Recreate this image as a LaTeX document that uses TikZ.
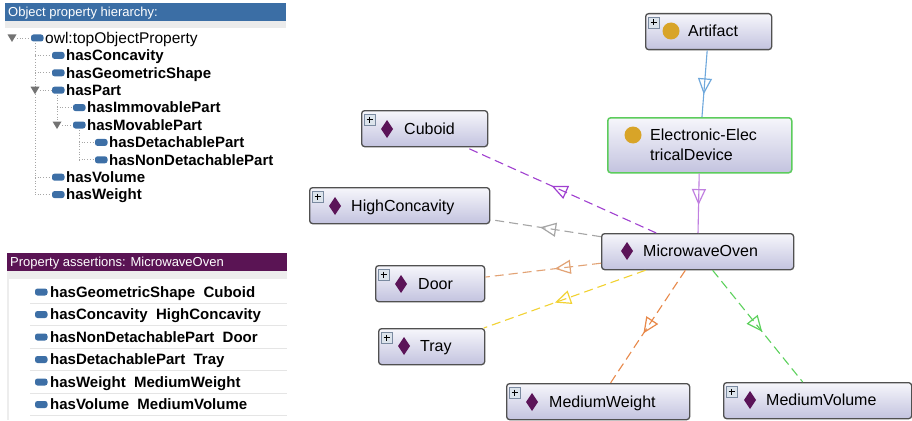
\documentclass[tikz,border=0pt]{standalone}
\usepackage{fontspec}
\setmainfont{Liberation Sans}
\usetikzlibrary{arrows.meta,decorations.markings}
\definecolor{hdrblue}{HTML}{3B6EA5}
\definecolor{hdrpurple}{HTML}{5A1454}
\definecolor{picon}{HTML}{3D6FA6}
\definecolor{boxtop}{HTML}{F6F6FB}
\definecolor{boxbot}{HTML}{C3C3DF}
\definecolor{boxline}{HTML}{505050}
\definecolor{greenline}{HTML}{5CCC5C}
\definecolor{goldc}{HTML}{D8A428}
\definecolor{diac}{HTML}{5B1458}
\definecolor{plusfill}{HTML}{DCE4EC}
\definecolor{plusline}{HTML}{7A8AA0}
\definecolor{eblue}{HTML}{6FA8DC}
\definecolor{eviolet}{HTML}{C07FE0}
\definecolor{epurple}{HTML}{A040D0}
\definecolor{egray}{HTML}{A5A5A5}
\definecolor{etan}{HTML}{E2A274}
\definecolor{eyellow}{HTML}{F2D233}
\definecolor{eorange}{HTML}{E8894A}
\definecolor{egreen}{HTML}{5CD15C}
\newcommand\regfont{\fontsize{15.5pt}{18pt}\selectfont}
\newcommand\boldfont{\fontsize{15pt}{17pt}\selectfont\bfseries}
\newcommand\hdrfont{\fontsize{13pt}{15pt}\selectfont}
\newcommand\grfont{\fontsize{16pt}{19pt}\selectfont}
\newcommand\plusicon[2]{%
  \draw[fill=plusfill,draw=plusline,line width=0.8pt] (#1,#2) rectangle ++(11,11);
  \draw[line width=1.1pt] (#1,#2) ++(5.5,2.5) -- ++(0,6) (#1,#2) ++(2.5,5.5) -- ++(6,0);}
\newcommand\diaicon[2]{\fill[diac] (#1,#2) ++(0,-9) -- ++(6,9) -- ++(-6,9) -- ++(-6,-9) -- cycle;}
\newcommand\circicon[2]{\fill[goldc] (#1,#2) circle (8.5pt);}
\newcommand\propicon[2]{\fill[picon,rounded corners=2.5pt] (#1,#2) ++(0,-3.5) rectangle ++(12.5,7);}
\newcommand\expandtri[2]{\fill[black!55] (#1,#2) ++(-4.5,-3.5) -- ++(9,0) -- ++(-4.5,7.5) -- cycle;}
\tikzset{
  gbox/.style={draw=boxline,line width=1.3pt,rounded corners=3pt,top color=boxtop,bottom color=boxbot,anchor=north west,inner sep=0pt},
  gtext/.style={anchor=west,inner sep=0pt,font=\grfont,text height=11.5pt,text depth=0pt},
  ttext/.style={anchor=west,inner sep=0pt,font=\boldfont,text height=10.7pt,text depth=0pt},
  rtext/.style={anchor=west,inner sep=0pt,font=\regfont,text height=11pt,text depth=0pt},
  htext/.style={anchor=west,inner sep=0pt,font=\hdrfont,text=white,text height=9.3pt,text depth=0pt},
  tline/.style={black!35,dotted,line width=0.7pt},
  conn/.style={line width=1.1pt,postaction={decorate},decoration={markings,mark=at position #1 with {\arrow[line width=1.2pt]{Triangle[open,length=16pt,width=14pt]}}}},
  conn/.default=0.56,
  dconn/.style={conn=#1,dash pattern=on 9pt off 5pt},
  dconn/.default=0.56,
}
\begin{document}
\begin{tikzpicture}[x=1pt,y=-1pt]
\useasboundingbox (0,0) rectangle (912,420);
\fill[white] (0,0) rectangle (912,420);
% ---------- Object property hierarchy panel ----------
\fill[hdrblue] (5,3) rectangle (286,21);
\fill[black!8] (5,21) rectangle (286,28);
\node[htext] (h1) at (8,12.2) {Object property hierarchy:};
% tree lines
\draw[tline] (17,38) -- (30,38);
\draw[tline] (35,43) -- (35,194.6);
\foreach \y in {55.4,72.8,177.2,194.6} \draw[tline] (35,\y) -- (51,\y);
\draw[tline] (40,90.2) -- (51,90.2);
\draw[tline] (57,95) -- (57,125);
\draw[tline] (57,107.6) -- (72,107.6);
\draw[tline] (62,125) -- (72,125);
\draw[tline] (79,130) -- (79,159.8);
\foreach \y in {142.4,159.8} \draw[tline] (79,\y) -- (94,\y);
\expandtri{12}{38}
\expandtri{35}{90.2}
\expandtri{57}{125}
% icons and texts
\propicon{31}{38}
\node[rtext] (t0) at (45,38) {owl:topObjectProperty};
\foreach \y/\lx/\txt [count=\i] in {55.4/52/hasConcavity,72.8/52/hasGeometricShape,90.2/52/hasPart,107.6/73/hasImmovablePart,125/73/hasMovablePart,142.4/95/hasDetachablePart,159.8/95/hasNonDetachablePart,177.2/52/hasVolume,194.6/52/hasWeight}{
  \propicon{\lx}{\y}
  \node[ttext] (t\i) at (\lx+14,\y) {\txt};
}
% ---------- Property assertions panel ----------
\fill[hdrpurple] (7,253) rectangle (287,271);
\node[htext] (h2) at (10,262) {Property assertions: MicrowaveOven};
\fill[black!7] (7,271) rectangle (287,279);
\fill[black!7] (7,279) rectangle (9,420);
\foreach \y/\txt [count=\i] in {292/{hasGeometricShape\ \ Cuboid},314.5/{hasConcavity\ \ HighConcavity},337/{hasNonDetachablePart\ \ Door},359.5/{hasDetachablePart\ \ Tray},382/{hasWeight\ \ MediumWeight},404.5/{hasVolume\ \ MediumVolume}}{
  \draw[black!10,line width=0.8pt] (30,\y+11.25) -- (287,\y+11.25);
  \propicon{35}{\y}
  \node[ttext] (a\i) at (50,\y) {\txt};
}
% ---------- graph boxes ----------
\node[gbox,minimum width=126pt,minimum height=36pt] (art) at (645,13) {};
\node[gbox,draw=greenline,line width=1.5pt,minimum width=184pt,minimum height=55pt] (ele) at (607,117) {};
\node[gbox,minimum width=192pt,minimum height=36pt] (mw) at (601,233) {};
\node[gbox,minimum width=126pt,minimum height=36pt] (cub) at (361,110) {};
\node[gbox,minimum width=180pt,minimum height=36pt] (hc) at (309,187) {};
\node[gbox,minimum width=109pt,minimum height=36pt] (door) at (375,265) {};
\node[gbox,minimum width=106pt,minimum height=36pt] (tray) at (378,328) {};
\node[gbox,minimum width=183pt,minimum height=36pt] (mwt) at (506,383) {};
\node[gbox,minimum width=188pt,minimum height=36pt] (mvol) at (723,382) {};
% icons
\plusicon{648}{17}\circicon{671}{31}
\circicon{633}{135}
\diaicon{627}{251}
\plusicon{364}{114}\diaicon{387}{129}
\plusicon{312}{191}\diaicon{335}{206}
\plusicon{378}{269}\diaicon{401}{284}
\plusicon{381}{332}\diaicon{404}{346}
\plusicon{509}{387}\diaicon{532}{402}
\plusicon{726}{386}\diaicon{750}{400}
% texts
\node[gtext] (art-t) at (688,31) {Artifact};
\node[gtext] (ele-t1) at (650,135) {Electronic-Elec};
\node[gtext] (ele-t2) at (650,155) {tricalDevice};
\node[gtext] (mw-t) at (643,251) {MicrowaveOven};
\node[gtext] (cub-t) at (404,129) {Cuboid};
\node[gtext] (hc-t) at (351,206) {HighConcavity};
\node[gtext] (door-t) at (418,284) {Door};
\node[gtext] (tray-t) at (420,346) {Tray};
\node[gtext] (mwt-t) at (549,402) {MediumWeight};
\node[gtext] (mvol-t) at (766,400) {MediumVolume};
% ---------- edges ----------
\draw[conn=0.66,eblue] (art) -- (ele);
\draw[conn=0.53,eviolet] (ele) -- (mw);
\draw[dconn=0.55,epurple] (mw) -- (cub);
\draw[dconn=0.55,egray] (mw) -- (hc);
\draw[dconn=0.4,etan] (mw) -- (door);
\draw[dconn=0.56,eyellow] (mw) -- (tray);
\draw[dconn=0.56,eorange] (mw) -- (mwt);
\draw[dconn=0.55,egreen] (mw) -- (mvol);
\end{tikzpicture}
\end{document}
